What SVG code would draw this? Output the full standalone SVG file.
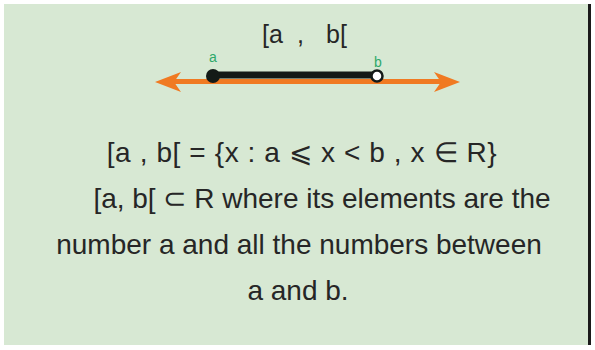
<svg xmlns="http://www.w3.org/2000/svg" width="595" height="350" viewBox="0 0 595 350">
<style>
.t{font-family:"Liberation Sans",Arial,sans-serif;fill:#262626;text-anchor:middle;font-size:28px}
.lbl{font-family:"Liberation Sans",Arial,sans-serif;fill:#2fa86a;font-size:14px;text-anchor:middle}
</style>
<rect x="0" y="0" width="595" height="350" fill="#ffffff"/>
<rect x="4" y="4" width="586" height="341" fill="#d7e8d3"/>
<rect x="588" y="4" width="3" height="341" fill="#1a1a1a"/>
<g id="title" font-family="Liberation Sans, Arial, sans-serif" font-size="25" fill="#262626">
<text x="262" y="43">[a</text>
<text x="297" y="43">,</text>
<text x="326" y="43">b[</text>
</g>
<g id="numberline">
<line x1="170" y1="81.5" x2="445" y2="81.5" stroke="#f07a22" stroke-width="5"/>
<polygon points="155,82 181,72 174,82 181,92" fill="#f07a22"/>
<polygon points="460,82 434,72 441,82 434,92" fill="#f07a22"/>
<line x1="213" y1="75" x2="377" y2="75" stroke="#141a17" stroke-width="7"/>
<circle cx="213" cy="76" r="7" fill="#141a17"/>
<circle cx="377" cy="76" r="5.5" fill="#ffffff" stroke="#141a17" stroke-width="2.5"/>
<text class="lbl" x="213" y="62">a</text>
<text class="lbl" x="378" y="67">b</text>
</g>
<g id="text">
<text class="t" x="302" y="162" letter-spacing="0.6">[a , b[ = {x : a ⩽ x &lt; b , x ∈ R}</text>
<text class="t" x="322" y="208">[a, b[ ⊂ R where its elements are the</text>
<text class="t" x="299" y="254">number a and all the numbers between</text>
<text class="t" x="298" y="300">a and b.</text>
</g>
</svg>
